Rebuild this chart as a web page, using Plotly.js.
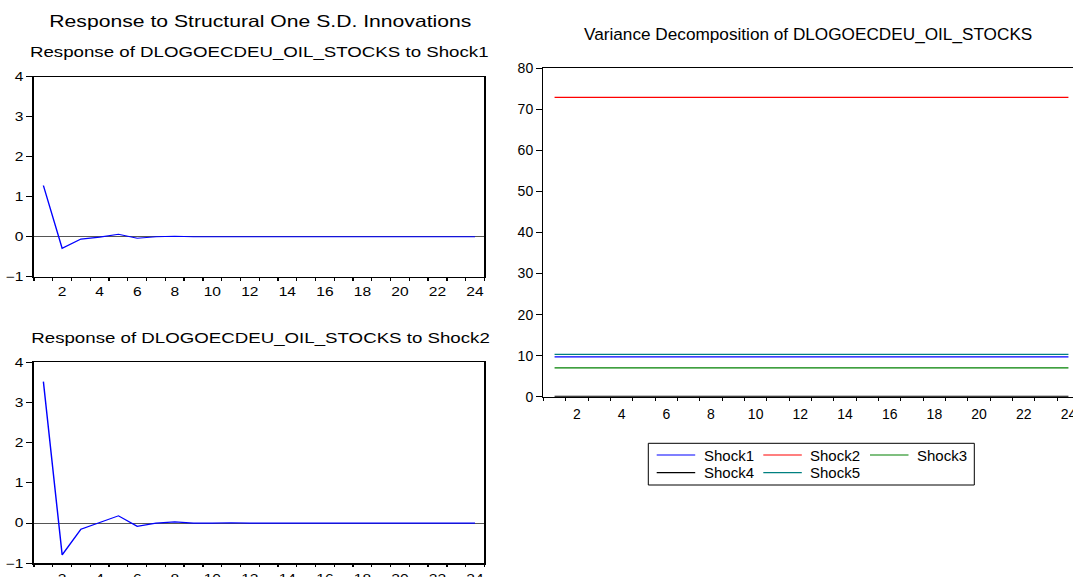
<!DOCTYPE html>
<html><head><meta charset="utf-8">
<script src="https://cdn.plot.ly/plotly-3.0.1.min.js"></script>
<style>
html,body{margin:0;padding:0;overflow:hidden;background:#fff;width:1073px;height:577px;}
#left{position:absolute;left:0;top:0;width:385px;height:600px;transform:scaleX(1.2987);transform-origin:0 0;}
#right{position:absolute;left:500px;top:0;width:585px;height:600px;}
</style></head><body>
<div id="left"></div><div id="right"></div>
<script>
// ---- data ----
const periods = [1,2,3,4,5,6,7,8,9,10,11,12,13,14,15,16,17,18,19,20,21,22,23,24];
const xTickVals = [2,4,6,8,10,12,14,16,18,20,22,24];
const xTickText = ['2','4','6','8','10','12','14','16','18','20','22','24'];
const irfShock1 = [1.28,-0.29,-0.06,-0.01,0.06,-0.04,0.00,0.01,0.00,0.00,0.01,0.00,0.00,0.00,0.00,0.00,0.00,0.00,0.00,0.00,0.00,0.00,0.00,0.00];
const irfShock2 = [3.52,-0.79,-0.15,0.02,0.18,-0.08,0.00,0.03,0.00,0.00,0.01,0.00,0.00,0.00,0.00,0.00,0.00,0.00,0.00,0.00,0.00,0.00,0.00,0.00];
const vdShock1 = [9.7,9.7,9.7,9.7,9.7,9.7,9.7,9.7,9.7,9.7,9.7,9.7,9.7,9.7,9.7,9.7,9.7,9.7,9.7,9.7,9.7,9.7,9.7,9.7];
const vdShock2 = [72.9,72.9,72.9,72.9,72.9,72.9,72.9,72.9,72.9,72.9,72.9,72.9,72.9,72.9,72.9,72.9,72.9,72.9,72.9,72.9,72.9,72.9,72.9,72.9];
const vdShock3 = [7.0,7.0,7.0,7.0,7.0,7.0,7.0,7.0,7.0,7.0,7.0,7.0,7.0,7.0,7.0,7.0,7.0,7.0,7.0,7.0,7.0,7.0,7.0,7.0];
const vdShock4 = [0.1,0.1,0.1,0.1,0.1,0.1,0.1,0.1,0.1,0.1,0.1,0.1,0.1,0.1,0.1,0.1,0.1,0.1,0.1,0.1,0.1,0.1,0.1,0.1];
const vdShock5 = [10.3,10.3,10.3,10.3,10.3,10.3,10.3,10.3,10.3,10.3,10.3,10.3,10.3,10.3,10.3,10.3,10.3,10.3,10.3,10.3,10.3,10.3,10.3,10.3];
const seriesNames = ['Shock1','Shock2','Shock3','Shock4','Shock5'];
const seriesColors = ['#0000ff','#ff0000','#008000','#000000','#008080'];
const mainTitle = 'Response to Structural One S.D. Innovations';
const sub1 = 'Response of DLOGOECDEU_OIL_STOCKS to Shock1';
const sub2 = 'Response of DLOGOECDEU_OIL_STOCKS to Shock2';
const vdTitle = 'Variance Decomposition of DLOGOECDEU_OIL_STOCKS';

const FONT = 'Liberation Sans, Arial, sans-serif';
const H = 600;
const py = v => 1 - v / H;

// ---- left (stretched) ----
const longTicks = [1.5,3.5,5.5,7.5,9.5,11.5,13.5,15.5,17.5,19.5,21.5,23.5];
function dataX(dom, anchor){
  return {domain: dom, anchor: anchor, range:[0.5,24.5], tickmode:'array', tickvals:xTickVals, ticktext:xTickText,
    ticks:'', showline:true, mirror:true, linecolor:'#000', linewidth:1.2, showgrid:false, zeroline:false,
    tickfont:{family:FONT, size:12, color:'#000'}, ticklabelstandoff:4, fixedrange:true};
}
function tickX(over, anchor, dom, len){
  return {overlaying: over, anchor: anchor, domain: dom, side:'bottom', range:[0.5,24.5], tickmode:'array', tickvals:longTicks,
    ticktext:longTicks.map(()=>''), ticks:'outside', ticklen:len, tickwidth:1, tickcolor:'#000', showticklabels:false,
    minor:{tick0:0.5, dtick:1, ticks:'outside', ticklen:Math.round(len*0.55), tickwidth:1, tickcolor:'#000', showgrid:false},
    showline:false, showgrid:false, zeroline:false, fixedrange:true};
}
function leftY(dom, anchor){
  return {domain: dom, anchor: anchor, range:[-1,4], tickmode:'array', tickvals:[-1,0,1,2,3,4],
    ticks:'outside', ticklen:4.6, tickwidth:1, tickcolor:'#000', showline:true, mirror:true, linecolor:'#000', linewidth:1.2,
    showgrid:false, zeroline:true, zerolinecolor:'#555', zerolinewidth:1,
    tickfont:{family:FONT, size:12, color:'#000'}, fixedrange:true};
}
const dx = [34/500, 484.4/500];
const d1 = [py(276.7), py(76.7)];
const d2 = [py(563.3), py(362.3)];

const leftTraces = [
  {x: periods, y: irfShock1, xaxis:'x', yaxis:'y', type:'scatter', mode:'lines', line:{color:'#0000ff', width:1.1}, hoverinfo:'skip'},
  {x: periods, y: irfShock2, xaxis:'x2', yaxis:'y2', type:'scatter', mode:'lines', line:{color:'#0000ff', width:1.1}, hoverinfo:'skip'},
  {x: [null], y: [null], xaxis:'x3', yaxis:'y', type:'scatter', mode:'lines', hoverinfo:'skip'},
  {x: [null], y: [null], xaxis:'x4', yaxis:'y2', type:'scatter', mode:'lines', hoverinfo:'skip'}
];
const leftLayout = {
  width: 385, height: H, margin:{l:0,r:0,t:0,b:0}, paper_bgcolor:'#fff', plot_bgcolor:'#fff', showlegend:false,
  xaxis: dataX(dx,'y'), xaxis2: dataX(dx,'y2'),
  xaxis3: tickX('x','y',dx,6), xaxis4: tickX('x2','y2',dx,6),
  yaxis: leftY(d1,'x'), yaxis2: leftY(d2,'x2'),
  annotations: [
    {text: mainTitle, xref:'paper', yref:'paper', x:260/500, y:py(21), xanchor:'center', yanchor:'middle', showarrow:false, font:{family:FONT, size:16.3, color:'#000'}},
    {text: sub1, xref:'paper', yref:'paper', x:259/500, y:py(52), xanchor:'center', yanchor:'middle', showarrow:false, font:{family:FONT, size:14.4, color:'#000'}},
    {text: sub2, xref:'paper', yref:'paper', x:260/500, y:py(338), xanchor:'center', yanchor:'middle', showarrow:false, font:{family:FONT, size:14.4, color:'#000'}}
  ]
};
Plotly.newPlot('left', leftTraces, leftLayout, {staticPlot:true});

// ---- right ----
const RW = 585, RX0 = 500;
const px = v => (v - RX0) / RW;
const vdData = [vdShock1, vdShock2, vdShock3, vdShock4, vdShock5];
const rdx = [px(543.4), px(1079.6)];
const rdy = [py(396.7), py(68.3)];
const rightTraces = vdData.map((arr,i)=>({x: periods, y: arr, xaxis:'x', yaxis:'y', type:'scatter', mode:'lines',
  name: seriesNames[i], line:{color: seriesColors[i], width:1.2}, hoverinfo:'skip'}));
rightTraces.push({x:[null], y:[null], xaxis:'x2', yaxis:'y', type:'scatter', mode:'lines', hoverinfo:'skip'});
const shapes = [];
const annots = [
  {text: vdTitle, xref:'paper', yref:'paper', x:px(808), y:py(34), xanchor:'center', yanchor:'middle', showarrow:false, font:{family:FONT, size:17.2, color:'#000'}}
];
// manual legend
shapes.push({type:'rect', xref:'paper', yref:'paper', x0:px(648.3), x1:px(974.3), y0:py(485), y1:py(443.3), line:{color:'#000', width:1}, fillcolor:'rgba(0,0,0,0)'});
const colX = [656.7, 763.3, 870];
const rowY = [455, 472.7];
seriesNames.forEach((nm,i)=>{
  const c = i % 3, r = Math.floor(i/3);
  shapes.push({type:'line', xref:'paper', yref:'paper', x0:px(colX[c]), x1:px(colX[c]+38.5), y0:py(rowY[r]), y1:py(rowY[r]), line:{color:seriesColors[i], width:1.2}});
  annots.push({text: nm, xref:'paper', yref:'paper', x:px(colX[c]+45), y:py(rowY[r]), xanchor:'left', yanchor:'middle', showarrow:false, font:{family:FONT, size:15, color:'#000'}});
});
const rightLayout = {
  width: RW, height: H, margin:{l:0,r:0,t:0,b:0}, paper_bgcolor:'rgba(0,0,0,0)', plot_bgcolor:'rgba(0,0,0,0)', showlegend:false,
  xaxis: {domain: rdx, anchor:'y', range:[0.5,24.5], tickmode:'array', tickvals:xTickVals, ticktext:xTickText, ticks:'',
    showline:true, mirror:true, linecolor:'#000', linewidth:1.4, showgrid:false, zeroline:false,
    tickfont:{family:FONT, size:14, color:'#000'}, ticklabelstandoff:4, fixedrange:true},
  xaxis2: tickX('x','y',rdx,6),
  yaxis: {domain: rdy, anchor:'x', range:[0,80], tickmode:'array', tickvals:[0,10,20,30,40,50,60,70,80],
    ticks:'outside', ticklen:6, tickwidth:1, tickcolor:'#000', showline:true, mirror:true, linecolor:'#000', linewidth:1.4,
    showgrid:false, zeroline:false, tickfont:{family:FONT, size:14, color:'#000'}, fixedrange:true},
  shapes: shapes, annotations: annots
};
Plotly.newPlot('right', rightTraces, rightLayout, {staticPlot:true});
</script>
</body></html>
